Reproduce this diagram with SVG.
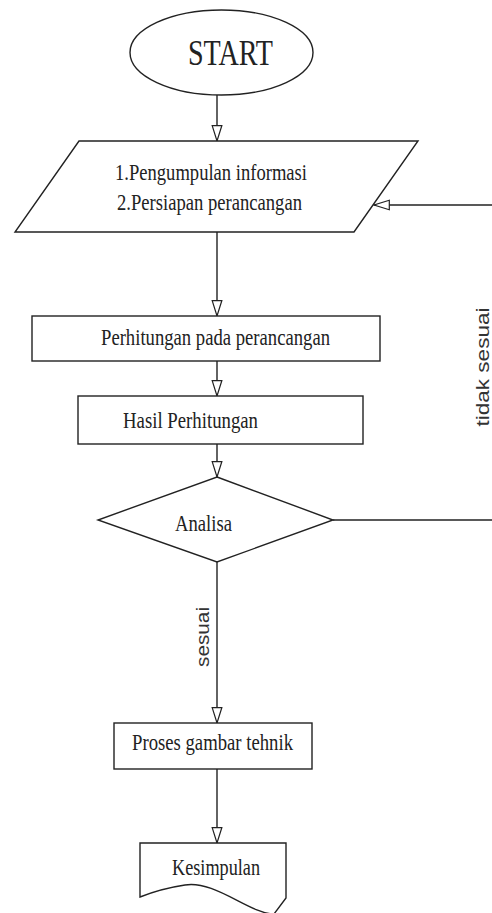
<svg xmlns="http://www.w3.org/2000/svg" width="492" height="913" viewBox="0 0 492 913">
<style>
.s{fill:#fff;stroke:#222;stroke-width:1.4}
.c{fill:none;stroke:#222;stroke-width:1.4}
.t{font-family:"Liberation Serif","Times New Roman",serif;fill:#222}
.l{font-family:"Liberation Sans",Arial,sans-serif;fill:#333;font-size:18px}
</style>
<defs>
<marker id="ah" markerUnits="userSpaceOnUse" markerWidth="18" markerHeight="13" refX="16" refY="5.5" orient="auto">
<path d="M0.7,0.7 L16,5.5 L0.7,10.3 Z" fill="#fff" stroke="#222" stroke-width="1.2"/>
</marker>
</defs>
<rect width="492" height="913" fill="#fff"/>
<g id="connectors">
<line class="c" x1="217" y1="95" x2="217" y2="141" marker-end="url(#ah)"/>
<line class="c" x1="217" y1="232" x2="217" y2="316" marker-end="url(#ah)"/>
<line class="c" x1="217" y1="361" x2="217" y2="396" marker-end="url(#ah)"/>
<line class="c" x1="217" y1="444" x2="217" y2="477" marker-end="url(#ah)"/>
<line class="c" x1="217" y1="562" x2="217" y2="723" marker-end="url(#ah)"/>
<line class="c" x1="217" y1="769" x2="217" y2="843" marker-end="url(#ah)"/>
<line class="c" x1="333" y1="520" x2="492" y2="520"/>
<line class="c" x1="492" y1="205" x2="374" y2="205" marker-end="url(#ah)"/>
<text class="l" transform="translate(489,367) rotate(-90)" text-anchor="middle" textLength="119" lengthAdjust="spacingAndGlyphs">tidak sesuai</text>
<text class="l" transform="translate(209,637) rotate(-90)" text-anchor="middle" textLength="60" lengthAdjust="spacingAndGlyphs">sesuai</text>
</g>
<g id="start">
<ellipse class="s" cx="221.5" cy="52.5" rx="91.5" ry="42.5"/>
<text class="t" x="188" y="65" font-size="36" textLength="85" lengthAdjust="spacingAndGlyphs">START</text>
</g>
<g id="input">
<polygon class="s" points="79,141 418,141 354,232 15,232"/>
<text class="t" x="115" y="180" font-size="23" textLength="192" lengthAdjust="spacingAndGlyphs">1.Pengumpulan informasi</text>
<text class="t" x="117" y="210" font-size="23" textLength="185" lengthAdjust="spacingAndGlyphs">2.Persiapan perancangan</text>
</g>
<g id="perhitungan">
<rect class="s" x="32" y="316" width="348" height="45"/>
<text class="t" x="101" y="345" font-size="23" textLength="229" lengthAdjust="spacingAndGlyphs">Perhitungan pada perancangan</text>
</g>
<g id="hasil">
<rect class="s" x="78" y="396" width="285" height="48"/>
<text class="t" x="123" y="428" font-size="23" textLength="135" lengthAdjust="spacingAndGlyphs">Hasil Perhitungan</text>
</g>
<g id="analisa">
<polygon class="s" points="217,477 333,520 217,562 98,520"/>
<text class="t" x="175" y="531" font-size="23" textLength="57" lengthAdjust="spacingAndGlyphs">Analisa</text>
</g>
<g id="proses">
<rect class="s" x="114" y="723" width="198" height="46"/>
<text class="t" x="132" y="750" font-size="23" textLength="161" lengthAdjust="spacingAndGlyphs">Proses gambar tehnik</text>
</g>
<g id="kesimpulan">
<path class="s" d="M140,843 H286 V898 L274,914 C250,914 215,880 185,885 C165,888 150,893 140,897 Z"/>
<text class="t" x="172" y="875" font-size="23" textLength="88" lengthAdjust="spacingAndGlyphs">Kesimpulan</text>
</g>
</svg>
